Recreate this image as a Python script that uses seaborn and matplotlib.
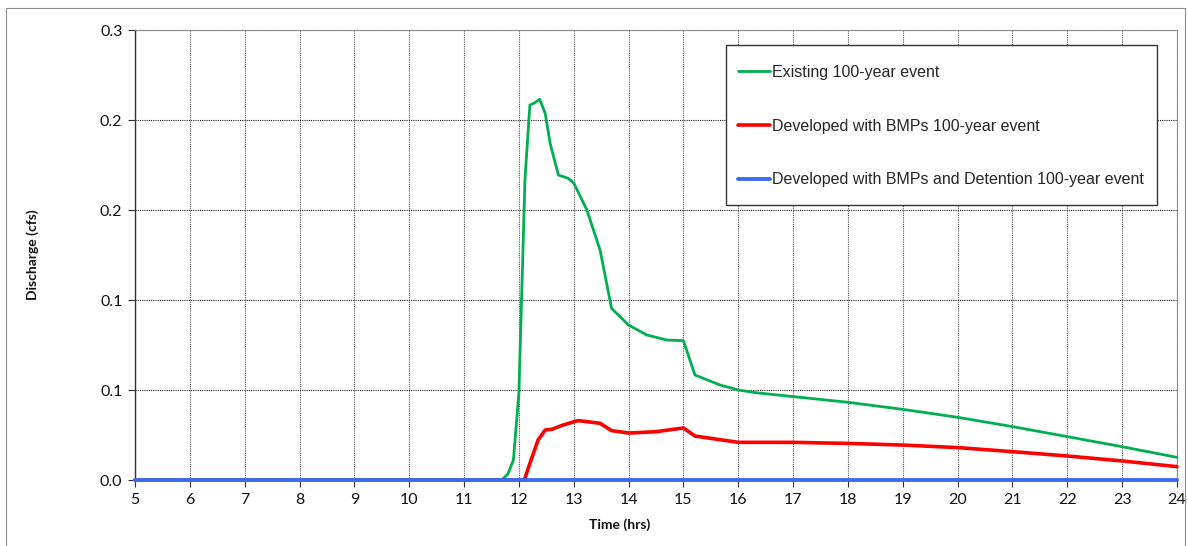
import matplotlib
matplotlib.use("Agg")
import matplotlib.pyplot as plt
from matplotlib.ticker import FormatStrFormatter
from matplotlib.patches import Rectangle
import seaborn as sns
import pandas as pd

# Hydrograph values (hours, cfs)
existing_t = [5, 11.6, 11.7, 11.8, 11.9, 12.0, 12.05, 12.11, 12.2, 12.29, 12.38, 12.48,
              12.57, 12.72, 12.9, 13.0, 13.24, 13.48, 13.69, 14.0, 14.33, 14.7, 15.0,
              15.21, 15.67, 16.0, 16.32, 17, 18, 19, 20, 21, 22, 23, 24]
existing_q = [0, 0, 0.0005, 0.004, 0.0133, 0.058, 0.122, 0.2, 0.25, 0.2515, 0.2538, 0.2444,
              0.2244, 0.2033, 0.2011, 0.198, 0.18, 0.1533, 0.1144, 0.1033, 0.0967, 0.0933, 0.0929,
              0.07, 0.0633, 0.06, 0.0582, 0.0556, 0.0518, 0.0471, 0.0418, 0.0356, 0.0289, 0.0222, 0.0151]

bmp_t = [5, 12.1, 12.2, 12.35, 12.48, 12.6, 12.81, 13.08, 13.48, 13.69, 14.0, 14.5,
         15.0, 15.21, 16, 17, 18, 19, 20, 21, 22, 23, 24]
bmp_q = [0, 0, 0.011, 0.0267, 0.0333, 0.0338, 0.0367, 0.0396, 0.0378, 0.0329, 0.0313, 0.0322,
         0.0347, 0.0293, 0.0251, 0.0251, 0.0244, 0.0233, 0.0216, 0.0189, 0.016, 0.0127, 0.0089]

det_t = [5, 24]
det_q = [0, 0]

series_names = ["Existing 100-year event",
                "Developed with BMPs 100-year event",
                "Developed with BMPs and Detention 100-year event"]
series_colors = ["#00B050", "#FF0000", "#3D6BF0"]
series_widths = [2.0, 2.6, 2.8]

x_ticks = list(range(5, 25))
y_ticks = [0, 0.06, 0.12, 0.18, 0.24, 0.3]

df = pd.concat([
    pd.DataFrame({"t": existing_t, "q": existing_q, "series": series_names[0]}),
    pd.DataFrame({"t": bmp_t, "q": bmp_q, "series": series_names[1]}),
    pd.DataFrame({"t": det_t, "q": det_q, "series": series_names[2]}),
], ignore_index=True)

sns.set_theme(style="white")
plt.rcParams["font.family"] = ["Lato", "DejaVu Sans"]

W, H = 1188, 546
fig = plt.figure(figsize=(W / 100, H / 100), dpi=100)
ax = fig.add_axes([135 / W, 1 - 480 / H, (1177 - 135) / W, (480 - 30) / H])

for i, (name, color, lw) in enumerate(zip(series_names, series_colors, series_widths)):
    sub = df[df["series"] == name]
    sns.lineplot(data=sub, x="t", y="q", ax=ax, color=color, linewidth=lw,
                 label=name, sort=False, estimator=None)
    line = ax.lines[-1]
    line.set_clip_on(False)
    line.set_zorder(3 + i)
    line.set_solid_joinstyle("round")

ax.set_xlim(5, 24)
ax.set_ylim(0, 0.3)
ax.set_xticks(x_ticks)
ax.set_yticks(y_ticks)
ax.yaxis.set_major_formatter(FormatStrFormatter("%.1f"))

ax.grid(True, axis="x", color="#555555", linestyle=(0, (1, 1)), linewidth=0.8)
ax.grid(True, axis="y", color="#222222", linestyle=(0, (1, 1)), linewidth=0.8)
ax.set_axisbelow(True)

for side in ["top", "right"]:
    ax.spines[side].set_color("#8c8c8c")
    ax.spines[side].set_linewidth(0.8)
for side in ["left", "bottom"]:
    ax.spines[side].set_color("#333333")
    ax.spines[side].set_linewidth(1.0)

ax.tick_params(axis="both", which="major", direction="out", length=5, width=0.8,
               color="#333333", labelsize=11.5, labelcolor="#111111",
               bottom=True, left=True, pad=4)
ax.set_xlabel("")
ax.set_ylabel("")

fig.text(620 / W, 1 - 525 / H, "Time (hrs)", ha="center", va="center",
         fontsize=10, fontweight="bold", color="#111111")
fig.text(33 / W, 1 - 255 / H, "Discharge (cfs)", ha="center", va="center",
         rotation=90, fontsize=10, fontweight="bold", color="#111111")

# legend box drawn separately, entries placed inside it
legend_box = Rectangle((726 / W, 1 - 205 / H), (1157 - 726) / W, (205 - 45) / H,
                       transform=fig.transFigure, facecolor="white",
                       edgecolor="#333333", linewidth=1.0, zorder=9)
ax.add_artist(legend_box)
legend_box.set_clip_on(False)

leg = ax.legend(loc="upper left", bbox_to_anchor=(738 / W, 1 - 65 / H),
                bbox_transform=fig.transFigure,
                frameon=False, prop={"family": "Liberation Sans", "size": 11.5},
                labelspacing=2.42, handlelength=2.0, handletextpad=0.15,
                borderpad=0, borderaxespad=0)
leg.set_zorder(10)

# outer chart border
fig.patches.append(Rectangle((6 / W, -0.01), (1185 - 6) / W, 1 - 8 / H + 0.01,
                             transform=fig.transFigure, fill=False,
                             edgecolor="#8c8c8c", linewidth=0.8))

fig.savefig("out.png", dpi=100)
